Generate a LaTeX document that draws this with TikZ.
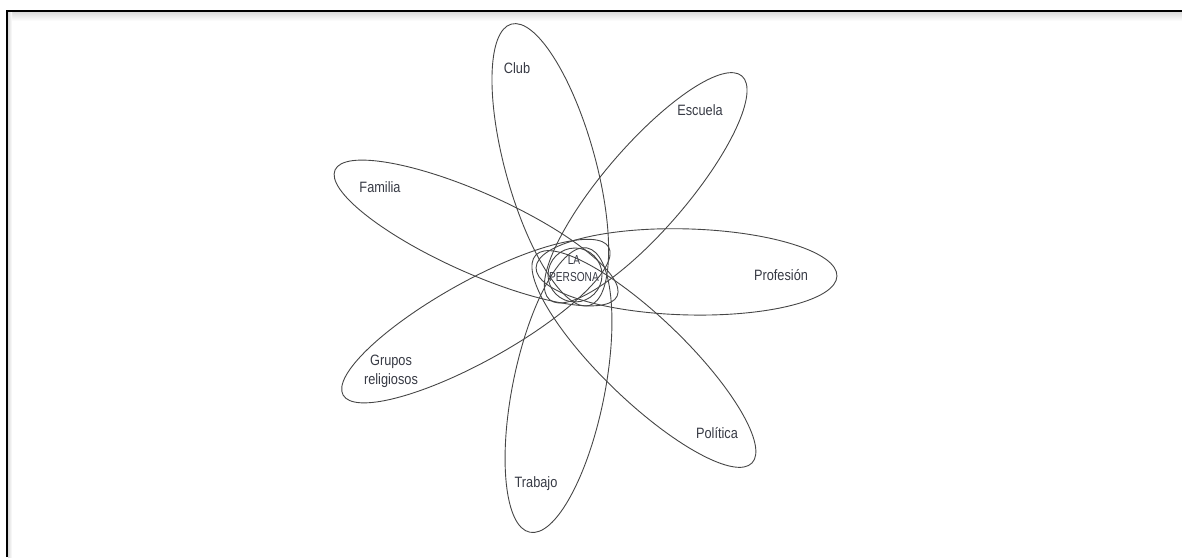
\documentclass[tikz,border=0pt]{standalone}
\usepackage{fontspec}
\setmainfont{Liberation Sans}[FakeStretch=0.85]
\newfontfamily\narrowfont{Liberation Sans}[FakeStretch=0.78]
\usetikzlibrary{shapes.geometric}
\definecolor{txt}{RGB}{55,58,68}
\definecolor{ln}{RGB}{70,70,70}
\tikzset{
  petal/.style={ellipse, draw=ln, line width=0.9pt, inner sep=0pt},
  lbl/.style={text=txt, font=\fontsize{15}{19}\selectfont, align=center, inner sep=0pt},
  center lbl/.style={text=txt, font=\narrowfont\fontsize{13}{17}\selectfont, align=center, inner sep=0pt}
}
\begin{document}
\begin{tikzpicture}[x=1pt,y=1pt]
\useasboundingbox (0,0) rectangle (1182,557);
% frame with faint shadow
\shade[top color=black!14, bottom color=white] (8,536) rectangle (1182,545);
\shade[left color=black!14, right color=white] (8,0) rectangle (12,545);
\draw[line width=2pt] (7,0) -- (7,546) -- (1182,546);
% petals
\node[petal, minimum width=301pt, minimum height=86pt, rotate=-1.6] (profesion) at (686.5,285.1) {};
\node[petal, minimum width=295pt, minimum height=84pt, rotate=49.3] (escuela) at (645.7,369.2) {};
\node[petal, minimum width=292pt, minimum height=90pt, rotate=105.5] (club) at (550.3,392.2) {};
\node[petal, minimum width=309pt, minimum height=80pt, rotate=155.9] (familia) at (476.1,324) {};
\node[petal, minimum width=304pt, minimum height=80pt, rotate=209.1] (grupos) at (475.9,235.9) {};
\node[petal, minimum width=290pt, minimum height=92pt, rotate=258.6] (trabajo) at (558.5,166.9) {};
\node[petal, minimum width=300pt, minimum height=84pt, rotate=-43.9] (politica) at (643.9,198) {};
% center
\node[circle, draw=ln, line width=0.9pt, minimum size=54pt, inner sep=0pt] (persona) at (575,282) {};
\node[center lbl] (personalbl) at (574,288) {LA\\PERSONA};
% labels
\node[lbl] (clublbl) at (517,489) {Club};
\node[lbl] (escuelalbl) at (700,447) {Escuela};
\node[lbl] (familialbl) at (380,370) {Familia};
\node[lbl] (profesionlbl) at (781,282) {Profesión};
\node[lbl] (gruposlbl) at (391,186) {Grupos\\religiosos};
\node[lbl] (politicalbl) at (717,124) {Política};
\node[lbl] (trabajolbl) at (536,73) {Trabajo};
\end{tikzpicture}
\end{document}
